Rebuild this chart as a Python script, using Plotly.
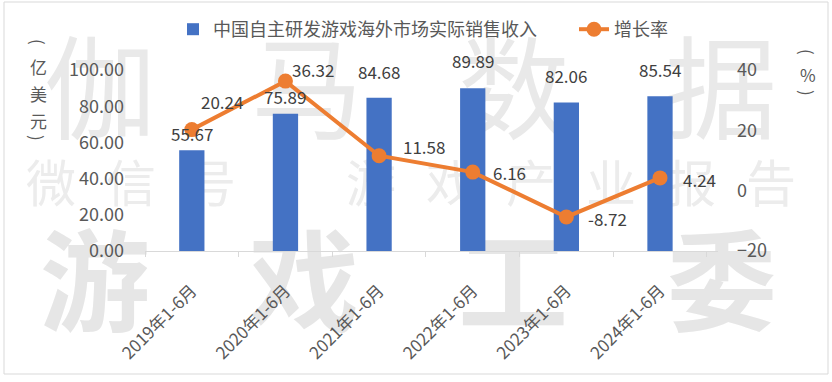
import plotly.graph_objects as go

categories = ["2019年1-6月", "2020年1-6月", "2021年1-6月", "2022年1-6月", "2023年1-6月", "2024年1-6月"]
revenue = [55.67, 75.89, 84.68, 89.89, 82.06, 85.54]
growth = [20.24, 36.32, 11.58, 6.16, -8.72, 4.24]

revenue_name = "中国自主研发游戏海外市场实际销售收入"
growth_name = "增长率"

# label offsets (style only, in px)
bar_label_yshift = [2, 3, 12, 13, 12, 12]
line_label_xshift = [7, 5, 22, 18, 20, 21]
line_label_yshift = [28, 12, 9, 0, -2, -2]

FONT = "Noto Sans CJK SC, Noto Sans, sans-serif"
W, H = 832, 382
L, R, T, B = 145, 718, 70, 251


def px(x):
    return (x - L) / (R - L)


def py(y):
    return (B - y) / (B - T)


fig = go.Figure()
fig.add_trace(go.Bar(
    x=categories, y=revenue, name=revenue_name,
    marker=dict(color="#4472C4", line=dict(width=0)),
    width=0.27, yaxis="y", legend="legend",
))
fig.add_trace(go.Scatter(
    x=categories, y=growth, name=growth_name, yaxis="y2", legend="legend2",
    mode="lines+markers",
    line=dict(color="#ED7D31", width=4),
    marker=dict(color="#ED7D31", size=15, symbol="circle"),
))

annotations = []
for c, v, s in zip(categories, revenue, bar_label_yshift):
    annotations.append(dict(x=c, y=v, xref="x", yref="y", text=f"{v:.2f}",
                            showarrow=False, xanchor="center", yanchor="bottom",
                            yshift=s, font=dict(family=FONT, size=17, color="#404040")))
for c, v, dx, dy in zip(categories, growth, line_label_xshift, line_label_yshift):
    annotations.append(dict(x=c, y=v, xref="x", yref="y2", text=f"{v:.2f}",
                            showarrow=False, xanchor="left", yanchor="middle",
                            xshift=dx, yshift=dy, font=dict(family=FONT, size=17, color="#404040")))

# vertical axis titles (stacked characters, brackets turned)
left_title = ["(", "亿", "美", "元", ")"]
left_title_y = [42, 67, 93, 120, 138]
for ch, yy in zip(left_title, left_title_y):
    annotations.append(dict(x=px(38), y=py(yy), xref="paper", yref="paper", text=ch,
                            showarrow=False, xanchor="center", yanchor="middle",
                            textangle=90 if ch in "()" else 0,
                            font=dict(family=FONT, size=17, color="#595959")))
right_title = ["(", "%", ")"]
right_title_y = [52, 74, 93]
for ch, yy in zip(right_title, right_title_y):
    annotations.append(dict(x=px(808), y=py(yy), xref="paper", yref="paper", text=ch,
                            showarrow=False, xanchor="center", yanchor="middle",
                            textangle=90 if ch in "()" else 0,
                            font=dict(family=FONT, size=17, color="#595959")))

shapes = []
# watermark (decorative, drawn below the data)
row1 = "伽马数据"
for i, ch in enumerate(row1):
    cx = 100 + i * 207
    shapes.append(dict(type="rect", xref="paper", yref="paper",
                       x0=px(cx - 60), x1=px(cx + 60), y0=py(160), y1=py(40),
                       line=dict(width=0), fillcolor="rgba(0,0,0,0)", layer="below",
                       label=dict(text=ch, textposition="middle center",
                                  font=dict(family=FONT, size=112, color="#e9e9e9"))))
row2 = "微信号：游戏产业报告"
for i, ch in enumerate(row2):
    cx = 51 + i * 80
    shapes.append(dict(type="rect", xref="paper", yref="paper",
                       x0=px(cx - 30), x1=px(cx + 30), y0=py(215), y1=py(160),
                       line=dict(width=0), fillcolor="rgba(0,0,0,0)", layer="below",
                       label=dict(text=ch, textposition="middle center",
                                  font=dict(family=FONT, size=50, color="#ececec"))))
row3 = "游戏工委"
for i, ch in enumerate(row3):
    cx = 95 + i * 209
    shapes.append(dict(type="rect", xref="paper", yref="paper",
                       x0=px(cx - 70), x1=px(cx + 70), y0=py(348), y1=py(238),
                       line=dict(width=0), fillcolor="rgba(0,0,0,0)", layer="below",
                       label=dict(text=f"<b>{ch}</b>", textposition="middle center",
                                  font=dict(family=FONT, size=110, color="#e6e6e6"))))
# chart border
shapes.append(dict(type="rect", xref="paper", yref="paper",
                   x0=px(4), x1=px(828), y0=py(374), y1=py(2),
                   line=dict(width=1, color="#d9d9d9"), fillcolor="rgba(0,0,0,0)", layer="below"))

legend_style = dict(orientation="h", xref="container", yref="container",
                    y=1 - 11 / H, xanchor="left", yanchor="top",
                    font=dict(family=FONT, size=18, color="#595959"),
                    bgcolor="rgba(0,0,0,0)", itemwidth=30)

fig.update_layout(
    width=W, height=H,
    margin=dict(l=L, r=W - R, t=T, b=H - B, autoexpand=False),
    paper_bgcolor="white", plot_bgcolor="rgba(0,0,0,0)",
    font=dict(family=FONT, color="#595959", size=17),
    barmode="group",
    showlegend=True,
    legend=dict(x=173 / W, **legend_style),
    legend2=dict(x=574 / W, **legend_style),
    xaxis=dict(type="category", showgrid=False, showline=True, linecolor="#d9d9d9",
               linewidth=1, ticks="outside", ticklen=5, tickcolor="#d9d9d9",
               tickson="boundaries", tickangle=-45,
               tickfont=dict(family=FONT, size=17, color="#595959"),
               ticklabelstandoff=22, zeroline=False),
    yaxis=dict(range=[0, 100], dtick=20, tickformat=".2f", showgrid=False,
               showline=False, zeroline=False, ticks="",
               tickfont=dict(family=FONT, size=18, color="#595959"),
               ticklabelstandoff=20),
    yaxis2=dict(range=[-20, 40], dtick=20, overlaying="y", side="right",
                showgrid=False, showline=False, zeroline=False, ticks="",
                tickfont=dict(family=FONT, size=18, color="#595959"),
                ticklabelstandoff=18),
    annotations=annotations,
    shapes=shapes,
)

fig.write_html("out.html")
